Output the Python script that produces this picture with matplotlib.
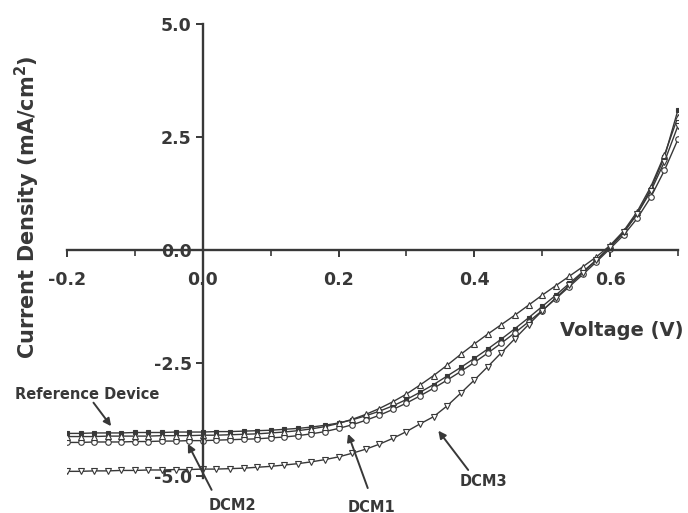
import matplotlib
matplotlib.use("Agg")
import matplotlib.pyplot as plt

# ---- data ----
voltage = [-0.20, -0.18, -0.16, -0.14, -0.12, -0.10, -0.08, -0.06, -0.04, -0.02,
           0.00, 0.02, 0.04, 0.06, 0.08, 0.10, 0.12, 0.14, 0.16, 0.18,
           0.20, 0.22, 0.24, 0.26, 0.28, 0.30, 0.32, 0.34, 0.36, 0.38,
           0.40, 0.42, 0.44, 0.46, 0.48, 0.50, 0.52, 0.54, 0.56, 0.58,
           0.60, 0.62, 0.64, 0.66, 0.68, 0.70]

ref_device = [-4.06, -4.06, -4.05, -4.05, -4.05, -4.04, -4.04, -4.04, -4.03, -4.03,
              -4.03, -4.02, -4.02, -4.01, -4.00, -3.99, -3.97, -3.95, -3.92, -3.88,
              -3.83, -3.76, -3.67, -3.57, -3.45, -3.31, -3.15, -2.98, -2.79, -2.60,
              -2.40, -2.19, -1.97, -1.74, -1.50, -1.25, -1.00, -0.74, -0.48, -0.22,
              0.06, 0.38, 0.80, 1.35, 2.05, 3.10]

dcm1 = [-4.13, -4.13, -4.13, -4.12, -4.12, -4.12, -4.12, -4.11, -4.11, -4.11,
        -4.10, -4.10, -4.09, -4.08, -4.07, -4.05, -4.03, -4.00, -3.96, -3.91,
        -3.84, -3.75, -3.64, -3.51, -3.36, -3.19, -2.99, -2.78, -2.55, -2.31,
        -2.08, -1.86, -1.65, -1.44, -1.22, -1.00, -0.79, -0.58, -0.37, -0.15,
        0.10, 0.42, 0.85, 1.40, 2.10, 2.95]

dcm2 = [-4.26, -4.26, -4.25, -4.25, -4.25, -4.24, -4.24, -4.23, -4.23, -4.22,
        -4.22, -4.21, -4.20, -4.19, -4.18, -4.16, -4.14, -4.11, -4.07, -4.02,
        -3.95, -3.87, -3.77, -3.66, -3.53, -3.39, -3.23, -3.06, -2.88, -2.69,
        -2.49, -2.28, -2.06, -1.83, -1.59, -1.34, -1.08, -0.81, -0.54, -0.26,
        0.03, 0.33, 0.70, 1.17, 1.76, 2.45]

dcm3 = [-4.90, -4.90, -4.89, -4.89, -4.88, -4.88, -4.87, -4.87, -4.86, -4.86,
        -4.85, -4.85, -4.84, -4.83, -4.81, -4.79, -4.76, -4.73, -4.69, -4.64,
        -4.58, -4.50, -4.41, -4.30, -4.17, -4.02, -3.85, -3.69, -3.45, -3.17,
        -2.88, -2.58, -2.27, -1.96, -1.65, -1.35, -1.06, -0.78, -0.50, -0.22,
        0.07, 0.40, 0.80, 1.30, 1.95, 2.75]

x_major = [-0.2, 0.0, 0.2, 0.4, 0.6]
x_minor = [-0.1, 0.1, 0.3, 0.5, 0.7]
x_labels = ["-0.2", "0.0", "0.2", "0.4", "0.6"]
y_ticks = [-5.0, -2.5, 0.0, 2.5, 5.0]
y_labels = ["-5.0", "-2.5", "0.0", "2.5", "5.0"]

# ---- style ----
plt.rcParams['font.family'] = ['DejaVu Sans']
plt.rcParams['mathtext.default'] = 'bf'
ink = "#383838"

fig = plt.figure(figsize=(6.88, 5.13), dpi=100)
ax = fig.add_axes([0.0974, 0.068, 0.888, 0.885])

lw = 1.0
ax.plot(voltage, ref_device, '-', color=ink, lw=lw, marker='s', ms=3.2,
        mfc=ink, mec=ink, mew=0.8)
ax.plot(voltage, dcm2, '-', color=ink, lw=lw, marker='o', ms=4.0,
        mfc='white', mec=ink, mew=0.8)
ax.plot(voltage, dcm1, '-', color=ink, lw=lw, marker='^', ms=5.0,
        mfc='white', mec=ink, mew=0.8)
ax.plot(voltage, dcm3, '-', color=ink, lw=lw, marker='v', ms=5.0,
        mfc='white', mec=ink, mew=0.8)

ax.set_xlim(-0.2, 0.7)
ax.set_ylim(-5.05, 5.0)

for s in ['top', 'right']:
    ax.spines[s].set_visible(False)
ax.spines['left'].set_position(('data', 0))
ax.spines['bottom'].set_position(('data', 0))
for s in ['left', 'bottom']:
    ax.spines[s].set_linewidth(1.7)
    ax.spines[s].set_color(ink)

ax.set_xticks(x_major)
ax.set_xticklabels(x_labels)
ax.set_xticks(x_minor, minor=True)
ax.set_yticks(y_ticks)
ax.set_yticklabels(y_labels)

ax.tick_params(axis='both', which='major', direction='out', length=5, width=1.4,
               color=ink, labelcolor=ink, labelsize=12.5)
ax.tick_params(axis='x', which='major', pad=10)
ax.tick_params(axis='y', which='major', pad=3)
ax.tick_params(axis='x', which='minor', direction='out', length=4, width=1.2, color=ink)
for lab in ax.get_xticklabels() + ax.get_yticklabels():
    lab.set_fontweight('bold')

# axis titles
fig.text(27 / 688, 1 - 207 / 513, "Current Density (mA/cm$^{2}$)",
         rotation=90, ha='center', va='center', fontsize=15, fontweight='bold',
         color=ink)
fig.text(622 / 688, 1 - 330 / 513, "Voltage (V)", ha='center', va='center',
         fontsize=14, fontweight='bold', color=ink)

# annotations
arrow_kw = dict(arrowstyle='-|>', color=ink, lw=1.4, mutation_scale=11,
                shrinkA=0, shrinkB=0)
notes = [
    ("Reference Device", (-0.170, -3.21), (-0.161, -3.38), (-0.135, -3.90)),
    ("DCM2", (0.043, -5.66), (0.013, -5.31), (-0.022, -4.29)),
    ("DCM1", (0.248, -5.69), (0.243, -5.27), (0.214, -4.07)),
    ("DCM3", (0.413, -5.13), (0.391, -4.87), (0.347, -4.00)),
]
for label, tpos, tail, head in notes:
    ax.text(tpos[0], tpos[1], label, ha='center', va='center', fontsize=10.5,
            fontweight='bold', color=ink, clip_on=False)
    ax.annotate('', xy=head, xytext=tail, arrowprops=arrow_kw,
                annotation_clip=False)

fig.savefig("out.png", dpi=100)
